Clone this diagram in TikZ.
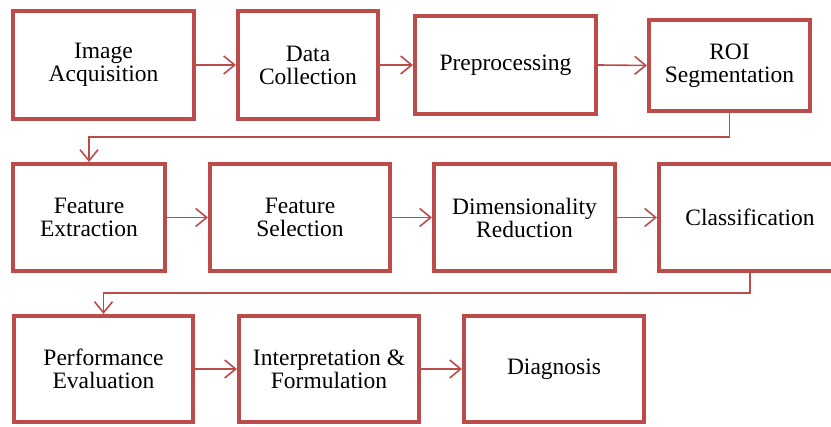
\documentclass[tikz,border=0pt]{standalone}
\usepackage{fontspec}
\setmainfont{Liberation Serif}
\usetikzlibrary{arrows.meta}
\definecolor{boxred}{RGB}{188,76,74}
\tikzset{
  stagebox/.style={draw=boxred, line width=3.6pt, fill=white, rectangle, inner sep=0pt,
    align=center, font=\fontsize{23.5}{23}\selectfont, text=black},
  conn/.style={draw=boxred, line width=1.6pt, -{Straight Barb[length=11pt,width=18pt]}}
}
\begin{document}
\begin{tikzpicture}[x=1pt,y=1pt]
\useasboundingbox (0,0) rectangle (831,427);
\begin{scope}
\clip (0,0) rectangle (831,427);
% row 1
\node[stagebox, minimum width=181.5pt, minimum height=108.5pt] (b1) at (103.5,362) {Image\\Acquisition};
\node[stagebox, minimum width=140.5pt, minimum height=108.5pt] (b2) at (308,362) {Data\\Collection};
\node[stagebox, minimum width=181.5pt, minimum height=98.5pt] (b3) at (505.5,362) {Preprocessing};
\node[stagebox, minimum width=161.5pt, minimum height=91.5pt] (b4) at (729.5,361.5) {ROI\\Segmentation};
% row 2
\node[stagebox, minimum width=152.5pt, minimum height=107.5pt] (b5) at (89,209.5) {Feature\\Extraction};
\node[stagebox, minimum width=180.5pt, minimum height=107.5pt] (b6) at (300,209.5) {Feature\\Selection};
\node[stagebox, minimum width=181.5pt, minimum height=107.5pt] (b7) at (524.5,209.5) {Dimensionality\\Reduction};
\node[stagebox, minimum width=182.5pt, minimum height=107.5pt] (b8) at (750,209.5) {Classification};
% row 3
\node[stagebox, minimum width=179.5pt, minimum height=106.5pt] (b9) at (103.5,58) {Performance\\Evaluation};
\node[stagebox, minimum width=180.5pt, minimum height=106.5pt] (b10) at (329,58) {Interpretation \&\\Formulation};
\node[stagebox, minimum width=180.5pt, minimum height=106.5pt] (b11) at (554,58) {Diagnosis};
% connectors
\draw[conn] (b1.east) -- (b2.west);
\draw[conn] (b2.east) -- (b3.west);
\draw[conn] (b3.east) -- (b4.west);
\coordinate (k1) at (89,290);
\draw[conn] (b4.south) |- (k1) -- (b5.north);
\draw[conn] (b5.east) -- (b6.west);
\draw[conn] (b6.east) -- (b7.west);
\draw[conn] (b7.east) -- (b8.west);
\coordinate (k2) at (103.5,134);
\draw[conn] (b8.south) |- (k2) -- (b9.north);
\draw[conn] (b9.east) -- (b10.west);
\draw[conn] (b10.east) -- (b11.west);
\end{scope}
\end{tikzpicture}
\end{document}
